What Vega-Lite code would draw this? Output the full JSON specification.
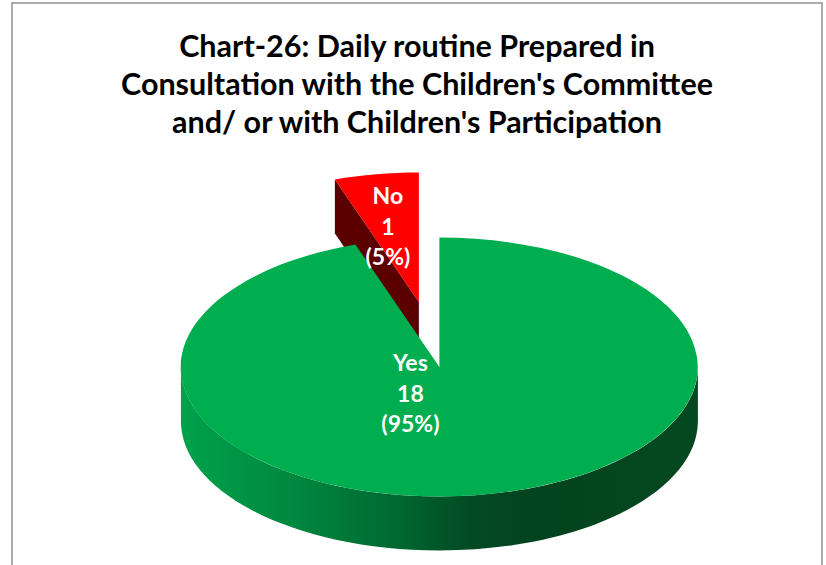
{
  "$schema": "https://vega.github.io/schema/vega-lite/v6.json",
  "width": 810,
  "height": 563,
  "padding": {"left": 12, "top": 3, "right": 4, "bottom": 0},
  "autosize": {"type": "none"},
  "background": "white",
  "view": {"stroke": "#ABABAB", "strokeWidth": 2, "fill": "white"},
  "title": {
    "text": ["Chart-26: Daily routine Prepared in", "Consultation with the Children's Committee", "and/ or with Children's Participation"],
    "font": "Lato", "fontWeight": "bold", "fontSize": 30.5, "lineHeight": 38, "color": "#000000",
    "anchor": "middle", "baseline": "bottom", "offset": -166
  },
  "data": {"values": [
    {"category": "Yes", "count": 18, "percent": 95, "label": "Yes\n18\n(95%)"},
    {"category": "No", "count": 1, "percent": 5, "label": "No\n1\n(5%)"}
  ]},
  "encoding": {
    "x": {"field": "category", "type": "nominal", "axis": null, "scale": {"type": "point", "domain": ["No", "Yes"], "range": [406.9, 427.4], "padding": 0}},
    "y": {"field": "category", "type": "nominal", "axis": null, "scale": {"type": "point", "domain": ["No", "Yes"], "range": [299, 364], "padding": 0}}
  },
  "layer": [
    {
      "transform": [{"filter": "datum.category === 'No'"}],
      "mark": {"type": "point", "filled": true, "opacity": 1, "size": 4, "fill": "#5A0000", "strokeWidth": 0,
        "shape": "M-84,-122.5 L-84,-68.5 L0,54 L0,0 Z"}
    },
    {
      "transform": [{"filter": "datum.category === 'No'"}],
      "mark": {"type": "point", "filled": true, "opacity": 1, "size": 4, "fill": "#FF0000", "strokeWidth": 0,
        "shape": "M0,0 L0,-129.5 A258.5,129.5 0 0 0 -84,-122.5 Z"}
    },
    {
      "transform": [{"filter": "datum.category === 'Yes'"}],
      "mark": {"type": "point", "filled": true, "opacity": 1, "size": 4, "strokeWidth": 0,
        "fill": {"gradient": "linear", "x1": 0, "y1": 0, "x2": 1, "y2": 0, "stops": [
          {"offset": 0, "color": "#00A24C"},
          {"offset": 0.22, "color": "#00873F"},
          {"offset": 0.41, "color": "#006A31"},
          {"offset": 0.5, "color": "#015629"},
          {"offset": 0.56, "color": "#034A24"},
          {"offset": 0.69, "color": "#03431F"},
          {"offset": 1, "color": "#044820"}
        ]},
        "shape": "M-258.5,0 L-258.5,54 A258.5,129.5 0 0 0 258.5,54 L258.5,0 A258.5,129.5 0 0 1 -258.5,0 Z"}
    },
    {
      "transform": [{"filter": "datum.category === 'Yes'"}],
      "mark": {"type": "point", "filled": true, "opacity": 1, "size": 4, "fill": "#00AE50", "strokeWidth": 0,
        "shape": "M0,0 L0,-129.5 A258.5,129.5 0 1 1 -84,-122.5 Z"}
    },
    {
      "transform": [{"filter": "datum.category === 'No'"}],
      "mark": {"type": "text", "font": "Lato", "fontWeight": "bold", "fontSize": 23, "lineHeight": 30.5, "color": "white", "align": "center", "baseline": "middle", "dx": -31, "dy": -105},
      "encoding": {"text": {"field": "label", "type": "nominal"}}
    },
    {
      "transform": [{"filter": "datum.category === 'Yes'"}],
      "mark": {"type": "text", "font": "Lato", "fontWeight": "bold", "fontSize": 23, "lineHeight": 30.5, "color": "white", "align": "center", "baseline": "middle", "dx": -29, "dy": -3},
      "encoding": {"text": {"field": "label", "type": "nominal"}}
    }
  ],
  "config": {"text": {"lineBreak": "\n"}, "mark": {"lineBreak": "\n"}}
}
